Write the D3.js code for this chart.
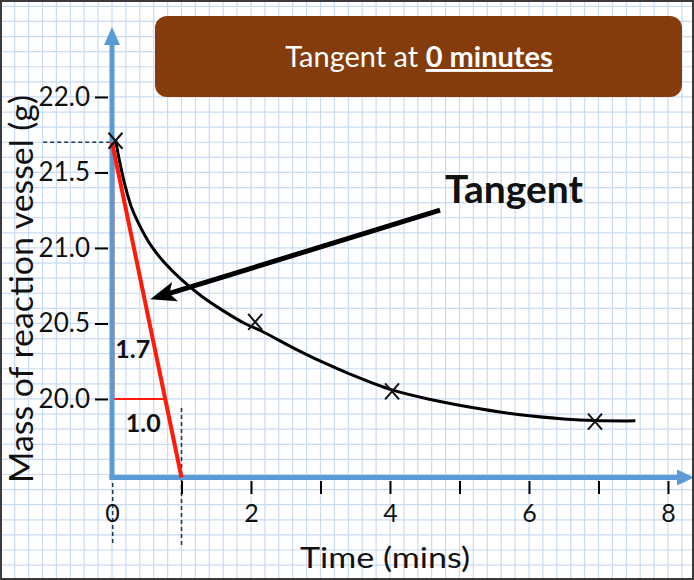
<!DOCTYPE html>
<html>
<head>
<meta charset="utf-8">
<script src="https://cdn.jsdelivr.net/npm/d3@7"></script>
<style>
body { margin: 0; background: #fff; }
svg { display: block; font-family: Lato, "Open Sans", sans-serif; }
</style>
</head>
<body>
<svg id="chart"></svg>
<script>
// measured points (the X marks)
const pointTimes = [0.05, 2.06, 4.03, 6.95];
const pointMasses = [21.71, 20.51, 20.05, 19.85];

// smooth curve
const curveTimes = [0.05, 0.115, 0.19, 0.28, 0.43, 0.57, 0.76, 1.0, 1.29, 1.58, 1.91, 2.15, 2.6, 3.0, 3.4, 4.03, 4.6, 5.29, 5.87, 6.5, 6.95, 7.53];
const curveMasses = [21.72, 21.56, 21.41, 21.27, 21.12, 21.01, 20.90, 20.79, 20.68, 20.59, 20.50, 20.45, 20.34, 20.25, 20.17, 20.06, 19.995, 19.935, 19.895, 19.868, 19.857, 19.855];

// tangent at 0 minutes, from the start mass down to the time axis
const tangentTimes = [0, 1.0];
const tangentMasses = [21.7, 19.48];

// gradient triangle
const riseFrom = 21.7;
const riseTo = 20.0;
const riseLabel = "1.7";
const runLabel = "1.0";

// axis ticks
const yTickValues = [20.0, 20.5, 21.0, 21.5, 22.0];
const xTickMarks = [1, 2, 3, 4, 5, 6, 7, 8];
const xTickLabels = [0, 2, 4, 6, 8];

const titleText = "Tangent at ";
const titleBold = "0 minutes";
const calloutText = "Tangent";
const xTitle = "Time (mins)";
const yTitle = "Mass of reaction vessel (g)";

const W = 694, H = 580;
const axisBlue = "#5b9bd5";
const navy = "#1f3864";
const red = "#ff1a0a";

const svg = d3.select("#chart").attr("width", W).attr("height", H);

const x = d3.scaleLinear().domain([0, 8.35]).range([112, 692.3]);
const y = d3.scaleLinear().domain([19.48, 22.45]).range([477.5, 29]);

svg.append("rect").attr("width", W).attr("height", H).attr("fill", "#fff");

// graph paper
const grid = svg.append("g").attr("stroke", "#c8dbf2").attr("stroke-width", 1.2);
const gx = d3.range(Math.ceil(x.invert(0) / 0.2), Math.floor(x.invert(W) / 0.2) + 1).map(i => i * 0.2);
const gy = d3.range(Math.ceil(y.invert(H) / 0.1), Math.floor(y.invert(0) / 0.1) + 1).map(i => i * 0.1);
grid.selectAll(".gv").data(gx).enter().append("line")
    .attr("x1", d => x(d)).attr("x2", d => x(d)).attr("y1", 0).attr("y2", H);
grid.selectAll(".gh").data(gy).enter().append("line")
    .attr("y1", d => y(d)).attr("y2", d => y(d)).attr("x1", 0).attr("x2", W);

// title box
svg.append("rect")
    .attr("x", 155).attr("y", 16).attr("width", 527).attr("height", 81).attr("rx", 12)
    .attr("fill", "#843c0c");
const title = svg.append("text")
    .attr("x", 419).attr("y", 67).attr("text-anchor", "middle")
    .attr("fill", "#fff").attr("font-size", 29);
title.append("tspan").text(titleText);
title.append("tspan").attr("font-weight", "bold").style("text-decoration", "underline").text(titleBold);

// dashed guides
const guides = svg.append("g").attr("stroke", navy).attr("stroke-width", 1.6).attr("stroke-dasharray", "4,3").attr("fill", "none");
guides.append("line").attr("x1", x(-0.99)).attr("x2", x(0)).attr("y1", y(tangentMasses[0])).attr("y2", y(tangentMasses[0]));
guides.append("line").attr("x1", x(0.01)).attr("x2", x(0.01)).attr("y1", y(riseTo)).attr("y2", y(19.03));
guides.append("line").attr("x1", x(tangentTimes[1])).attr("x2", x(tangentTimes[1])).attr("y1", y(19.94)).attr("y2", y(19.03));

// gradient triangle
const slope = (tangentMasses[1] - tangentMasses[0]) / (tangentTimes[1] - tangentTimes[0]);
const runEnd = tangentTimes[0] + (riseTo - tangentMasses[0]) / slope;
svg.append("path")
    .attr("d", d3.line().x(d => x(d[0])).y(d => y(d[1]))([[0.02, riseFrom], [0.02, riseTo], [runEnd, riseTo]]))
    .attr("fill", "none").attr("stroke", red).attr("stroke-width", 2);

// axes
svg.append("line").attr("x1", x(0)).attr("x2", x(0)).attr("y1", y(19.48) + 2).attr("y2", 42)
    .attr("stroke", axisBlue).attr("stroke-width", 5);
svg.append("path").attr("d", `M${x(0) - 8},45 L${x(0)},27 L${x(0) + 8},45 Z`).attr("fill", axisBlue);
svg.append("line").attr("x1", x(0) - 2.5).attr("x2", 680).attr("y1", y(19.48)).attr("y2", y(19.48))
    .attr("stroke", axisBlue).attr("stroke-width", 5);
svg.append("path").attr("d", `M677,${y(19.48) - 8} L694,${y(19.48)} L677,${y(19.48) + 8} Z`).attr("fill", axisBlue);

const yAxis = svg.append("g").attr("transform", "translate(108,0)")
    .call(d3.axisLeft(y).tickValues(yTickValues).tickFormat(d3.format(".1f")).tickSize(13).tickPadding(5));
yAxis.select(".domain").remove();
yAxis.selectAll("line").attr("stroke", "#000").attr("stroke-width", 2);
yAxis.selectAll("text").attr("font-size", 26).attr("fill", "#111").attr("font-family", "Lato, sans-serif");

const xAxis = svg.append("g").attr("transform", "translate(0,481)")
    .call(d3.axisBottom(x).tickValues(xTickMarks).tickFormat("").tickSize(13));
xAxis.select(".domain").remove();
xAxis.selectAll("line").attr("stroke", "#000").attr("stroke-width", 2);

const xLabels = svg.append("g").attr("transform", "translate(0,481)")
    .call(d3.axisBottom(x).tickValues(xTickLabels).tickFormat(d3.format("d")).tickSize(0).tickPadding(23));
xLabels.select(".domain").remove();
xLabels.selectAll("text").attr("font-size", 25).attr("fill", "#111").attr("font-family", "Lato, sans-serif");

// curve
svg.append("path")
    .datum(d3.zip(curveTimes, curveMasses))
    .attr("d", d3.line().x(d => x(d[0])).y(d => y(d[1])).curve(d3.curveCatmullRom.alpha(0.5)))
    .attr("fill", "none").attr("stroke", "#000").attr("stroke-width", 3);

// tangent line
svg.append("path")
    .datum(d3.zip(tangentTimes, tangentMasses))
    .attr("d", d3.line().x(d => x(d[0])).y(d => y(d[1])))
    .attr("fill", "none").attr("stroke", red).attr("stroke-width", 4);

// X marks
svg.selectAll(".pt").data(d3.zip(pointTimes, pointMasses)).enter().append("path")
    .attr("transform", d => `translate(${x(d[0])},${y(d[1])})`)
    .attr("d", "M-7,-8 L7,8 M-7,8 L7,-8")
    .attr("stroke", "#111").attr("stroke-width", 2).attr("fill", "none");

// triangle labels
svg.append("text").attr("x", x(0.3)).attr("y", y(20.27)).attr("text-anchor", "middle")
    .attr("font-size", 25).attr("font-weight", "bold").attr("fill", "#111").text(riseLabel);
svg.append("text").attr("x", x(0.45)).attr("y", y(19.78)).attr("text-anchor", "middle")
    .attr("font-size", 25).attr("font-weight", "bold").attr("fill", "#111").text(runLabel);

// callout arrow
const from = [x(4.72), y(21.25)];
const tip = [x(0.55), y(20.66)];
const len = Math.hypot(tip[0] - from[0], tip[1] - from[1]);
const ux = (tip[0] - from[0]) / len, uy = (tip[1] - from[1]) / len;
svg.append("line")
    .attr("x1", from[0]).attr("y1", from[1])
    .attr("x2", tip[0] - ux * 14).attr("y2", tip[1] - uy * 14)
    .attr("stroke", "#000").attr("stroke-width", 5);
const ang = Math.atan2(uy, ux) * 180 / Math.PI;
svg.append("path")
    .attr("transform", `translate(${tip[0]},${tip[1]}) rotate(${ang})`)
    .attr("d", "M0,0 L-26,-10 L-20,0 L-26,10 Z")
    .attr("fill", "#000");

svg.append("text").attr("x", 514).attr("y", 203).attr("text-anchor", "middle")
    .attr("font-size", 39).attr("font-weight", "bold").attr("fill", "#111").text(calloutText);

// axis titles
svg.append("text").attr("x", 385).attr("y", 568).attr("text-anchor", "middle")
    .attr("font-size", 28).attr("fill", "#111")
    .attr("textLength", 170).attr("lengthAdjust", "spacingAndGlyphs").text(xTitle);
svg.append("text").attr("transform", "translate(33,289) rotate(-90)").attr("text-anchor", "middle")
    .attr("font-size", 33).attr("fill", "#111")
    .attr("textLength", 388).attr("lengthAdjust", "spacingAndGlyphs").text(yTitle);

// frame
svg.append("rect").attr("x", 1).attr("y", 1).attr("width", W - 2).attr("height", H - 2)
    .attr("fill", "none").attr("stroke", "#3a3a3a").attr("stroke-width", 2);
</script>
</body>
</html>
